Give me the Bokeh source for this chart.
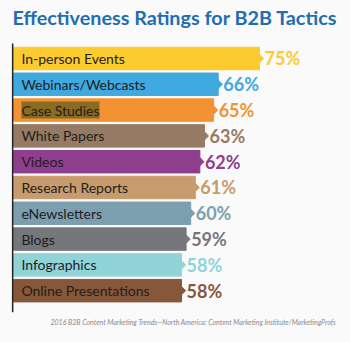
from bokeh.plotting import figure
from bokeh.models import Range1d, Label, ColumnDataSource
from bokeh.core.properties import value
from bokeh.embed import file_html
from bokeh.resources import INLINE

title = "Effectiveness Ratings for B2B Tactics"
source_note = "2016 B2B Content Marketing Trends\u2014North America: Content Marketing Institute/MarketingProfs"
tactics = ["In-person Events", "Webinars/Webcasts", "Case Studies", "White Papers", "Videos",
           "Research Reports", "eNewsletters", "Blogs", "Infographics", "Online Presentations"]
ratings = [75, 66, 65, 63, 62, 61, 60, 59, 58, 58]
bar_colors = ["#fccb2f", "#3fa9e0", "#f39233", "#957b64", "#8f3e8e",
              "#c79b6d", "#7c9fb0", "#76777c", "#90d3d9", "#87573a"]

W, H = 350, 342
base = 21.4
rows = list(range(len(tactics)))

p = figure(width=W, height=H, output_backend="svg", toolbar_location=None,
           x_range=Range1d(18.55, 94.83), y_range=Range1d(11.008, -2.248),
           min_border=0, outline_line_color=None)
p.axis.visible = False
p.grid.visible = False
p.background_fill_color = "#fafafa"
p.border_fill_color = "#fafafa"

src = ColumnDataSource(dict(y=rows, right=ratings, color=bar_colors, name=tactics,
                            lbl=[f"{r}%" for r in ratings],
                            lx=[r + 1.1 for r in ratings]))
p.hbar(y="y", left=base, right="right", height=0.87, color="color", source=src)

# arrow tips
xs = [[r, r + 0.9, r] for r in ratings]
ys = [[i - 0.16, i, i + 0.16] for i in rows]
p.patches(xs=xs, ys=ys, color=bar_colors)

# axis line
p.segment(x0=[base - 0.2], x1=[base - 0.2], y0=[-0.58], y1=[9.84], line_color="#222222", line_width=1.5)

# category labels
p.text(x=base + 1.7, y="y", text="name", source=src, text_font=value("Lato"),
       text_font_size="14px", text_color="#1e1e1e", text_baseline="middle")
# highlight on Case Studies label
hl = ColumnDataSource(dict(x=[base + 1.7], y=[2], t=["Case Studies"]))
p.text(x="x", y="y", text="t", source=hl, text_font=value("Lato"), text_font_size="14px",
       text_color="#1e1e1e", text_baseline="middle", background_fill_color="#8a6b22")

# percent labels
p.text(x="lx", y="y", text="lbl", source=src, text_font=value("Lato"), text_font_style="bold",
       text_font_size="18px", text_color="color", text_baseline="middle")

p.add_layout(Label(x=12, y=H - 16, x_units="screen", y_units="screen", text=title,
                   text_font="Lato", text_font_style="bold", text_font_size="19.8px",
                   text_color="#1f6db3", text_baseline="middle"))
p.add_layout(Label(x=50, y=H - 321, x_units="screen", y_units="screen", text=source_note,
                   text_font="Lato", text_font_style="italic", text_font_size="7px",
                   text_color="#8a8a8a", text_baseline="middle"))

open("out.html", "w").write(file_html(p, INLINE))
